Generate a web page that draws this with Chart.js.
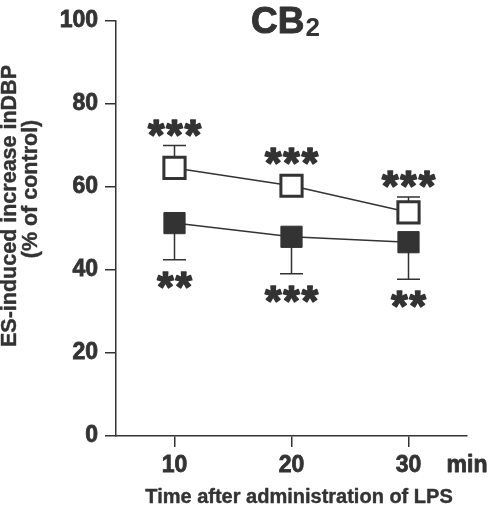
<!DOCTYPE html>
<html>
<head>
    <title>CB2</title>
    <script src="https://cdn.jsdelivr.net/npm/chart.js"></script>
    <style>
        body {
            margin: 0;
            background: #fff;
        }
        #wrap {
            width: 488px;
            height: 508px;
        }
    </style>
</head>
<body>
    <div id="wrap">
        <canvas id="chart" width="488" height="508"></canvas>
    </div>

    <script>
        // data
        const times = [10, 20, 30];
        const xTicks = [10, 20, 30];
        const yTicks = [0, 20, 40, 60, 80, 100];

        const openMean = [64.6, 60.3, 53.9];
        const openErr = [5.4, 2.0, 3.7];      // drawn upwards
        const filledMean = [51.3, 48.0, 46.7];
        const filledErr = [8.8, 8.9, 8.9];    // drawn downwards

        const starsAbove = ['***', '***', '***'];
        const starsBelow = ['**', '***', '**'];

        const ink = '#333';
        const font = 'Liberation Sans, Arial, Helvetica, sans-serif';

        function toPoints(vals) {
            return times.map((t, i) => ({ x: t, y: vals[i] }));
        }

        // draw text centred on its ink box, slightly emboldened
        function centerText(ctx, str, cx, cy, stroke) {
            const m = ctx.measureText(str);
            const base = cy + (m.actualBoundingBoxAscent - m.actualBoundingBoxDescent) / 2;
            ctx.fillText(str, cx, base);
            if (stroke) {
                ctx.lineWidth = stroke;
                ctx.strokeText(str, cx, base);
            }
        }

        const extras = {
            id: 'extras',
            beforeDatasetsDraw(chart) {
                const { ctx, scales: { x, y } } = chart;
                ctx.save();
                ctx.strokeStyle = ink;
                ctx.lineWidth = 1.5;
                const bar = (px, y0, y1) => {
                    ctx.beginPath();
                    ctx.moveTo(px, y0);
                    ctx.lineTo(px, y1);
                    ctx.moveTo(px - 11.5, y1);
                    ctx.lineTo(px + 11.5, y1);
                    ctx.stroke();
                };
                times.forEach((t, i) => {
                    const px = x.getPixelForValue(t);
                    bar(px, y.getPixelForValue(openMean[i]), y.getPixelForValue(openMean[i] + openErr[i]));
                    bar(px, y.getPixelForValue(filledMean[i]), y.getPixelForValue(filledMean[i] - filledErr[i]));
                });
                ctx.restore();
            },
            afterDraw(chart) {
                const { ctx, scales: { x, y } } = chart;
                ctx.save();
                ctx.fillStyle = ink;
                ctx.strokeStyle = ink;
                ctx.lineJoin = 'round';
                ctx.textAlign = 'center';

                // significance stars
                ctx.font = 'bold 42px ' + font;
                ctx.letterSpacing = '2px';
                times.forEach((t, i) => {
                    const px = x.getPixelForValue(t);
                    const top = Math.min(y.getPixelForValue(openMean[i] + openErr[i]), y.getPixelForValue(openMean[i]) - 12.5);
                    centerText(ctx, starsAbove[i], px + 1, top - 17.5, 1.6);
                    const bottom = y.getPixelForValue(filledMean[i] - filledErr[i]);
                    centerText(ctx, starsBelow[i], px + 1, bottom + 20, 1.6);
                });
                ctx.letterSpacing = '0px';

                // title CB2
                ctx.textAlign = 'left';
                ctx.textBaseline = 'alphabetic';
                ctx.font = 'bold 37px ' + font;
                ctx.fillText('CB', 251, 33);
                ctx.lineWidth = 1;
                ctx.strokeText('CB', 251, 33);
                const w = ctx.measureText('CB').width;
                ctx.font = 'bold 26px ' + font;
                ctx.fillText('2', 251 + w + 1, 36);

                // unit label, on the same baseline as the x tick labels
                ctx.font = 'bold 23px ' + font;
                ctx.textAlign = 'center';
                ctx.lineWidth = 0.8;
                ctx.fillText('min', 467, 471.5);
                ctx.strokeText('min', 467, 471.5);

                // x axis title
                ctx.font = 'bold 20px ' + font;
                centerText(ctx, 'Time after administration of LPS', 299, 495, 0.4);

                // y axis title
                ctx.font = 'bold 21.5px ' + font;
                ctx.textBaseline = 'middle';
                ctx.lineWidth = 0.4;
                ctx.save();
                ctx.translate(10, 206);
                ctx.rotate(-Math.PI / 2);
                ctx.fillText('ES-induced increase inDBP', 0, 0);
                ctx.strokeText('ES-induced increase inDBP', 0, 0);
                ctx.restore();
                ctx.save();
                ctx.translate(31, 189);
                ctx.rotate(-Math.PI / 2);
                ctx.fillText('(% of control)', 0, 0);
                ctx.strokeText('(% of control)', 0, 0);
                ctx.restore();

                ctx.restore();
            }
        };

        const tickFont = { family: font, size: 23, weight: 'bold' };

        new Chart(document.getElementById('chart'), {
            type: 'line',
            data: {
                datasets: [{
                    label: 'open',
                    data: toPoints(openMean),
                    borderColor: ink,
                    borderWidth: 1.5,
                    pointStyle: 'rect',
                    pointRadius: 15,
                    pointBorderWidth: 3,
                    pointBorderColor: ink,
                    pointBackgroundColor: '#fff',
                    tension: 0
                }, {
                    label: 'filled',
                    data: toPoints(filledMean),
                    borderColor: ink,
                    borderWidth: 1.5,
                    pointStyle: 'rect',
                    pointRadius: 15,
                    pointBorderWidth: 1,
                    pointBorderColor: ink,
                    pointBackgroundColor: ink,
                    tension: 0
                }]
            },
            options: {
                responsive: false,
                animation: false,
                events: [],
                layout: { padding: { top: 21, right: 21, left: 0, bottom: 0 } },
                plugins: {
                    legend: { display: false },
                    tooltip: { enabled: false }
                },
                scales: {
                    x: {
                        type: 'linear',
                        min: 5,
                        max: 35,
                        afterBuildTicks: s => { s.ticks = xTicks.map(v => ({ value: v })); },
                        afterFit: s => { s.height = 72; },
                        border: { color: ink, width: 1.5 },
                        grid: { drawOnChartArea: false, tickLength: 11, color: ink, lineWidth: 1.5 },
                        ticks: {
                            color: ink,
                            padding: 5,
                            font: tickFont,
                            textStrokeColor: ink,
                            textStrokeWidth: 0.8
                        }
                    },
                    y: {
                        min: 0,
                        max: 100,
                        afterBuildTicks: s => { s.ticks = yTicks.map(v => ({ value: v })); },
                        afterFit: s => { s.width = 116; },
                        border: { color: ink, width: 1.5 },
                        grid: { drawOnChartArea: false, tickLength: 11, color: ink, lineWidth: 1.5 },
                        ticks: {
                            color: ink,
                            padding: 7,
                            font: tickFont,
                            textStrokeColor: ink,
                            textStrokeWidth: 0.8
                        }
                    }
                }
            },
            plugins: [extras]
        });
    </script>
</body>
</html>
